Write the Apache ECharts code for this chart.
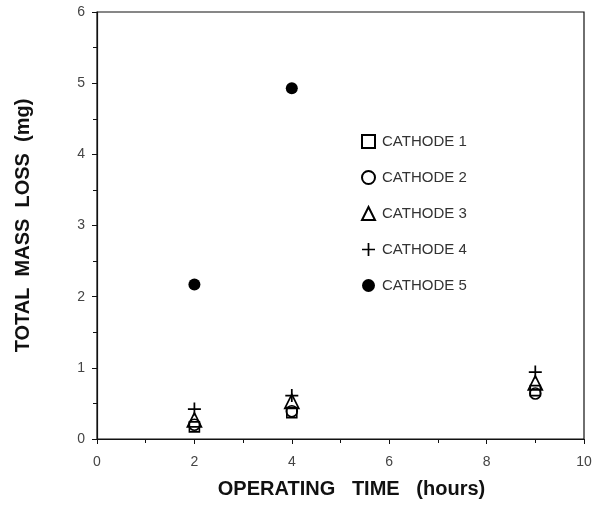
<!DOCTYPE html>
<html>
<head>
<meta charset="utf-8">
<script src="https://cdn.jsdelivr.net/npm/echarts@6/dist/echarts.min.js"></script>
<style>
  html, body { margin: 0; padding: 0; background: #fff; }
  #chart { width: 596px; height: 505px; }
</style>
</head>
<body>
<div id="chart"></div>
<script>
  // operating time (hours) for each measurement
  var hours = [2, 4, 9];
  var cathode1 = [0.17, 0.37, 0.68];
  var cathode2 = [0.20, 0.39, 0.64];
  var cathode3 = [0.27, 0.53, 0.79];
  var cathode4 = [0.42, 0.61, 0.94];
  var cathode5 = [2.17, 4.93];
  var names = ['CATHODE 1', 'CATHODE 2', 'CATHODE 3', 'CATHODE 4', 'CATHODE 5'];

  var plusPath = 'path://M5.2,0L6.8,0L6.8,5.2L12,5.2L12,6.8L6.8,6.8L6.8,12L5.2,12L5.2,6.8L0,6.8L0,5.2L5.2,5.2Z';

  function pairs(vals) {
    var out = [];
    for (var i = 0; i < vals.length; i++) out.push([hours[i], vals[i]]);
    return out;
  }

  var chart = echarts.init(document.getElementById('chart'));
  var font = 'Liberation Sans, Arial, sans-serif';

  var option = {
    animation: false,
    backgroundColor: '#fff',
    grid: {
      left: 97, right: 12, top: 12, bottom: 66,
      show: true, borderColor: '#111', borderWidth: 1.2
    },
    legend: {
      orient: 'vertical',
      left: 356, top: 129,
      itemGap: 21,
      itemWidth: 13, itemHeight: 13,
      textStyle: { fontFamily: font, fontSize: 15, color: '#333', padding: [0, 0, 0, 2] },
      data: names
    },
    xAxis: {
      type: 'value', min: 0, max: 10, interval: 2,
      name: 'OPERATING   TIME   (hours)',
      nameLocation: 'middle', nameGap: 40,
      nameTextStyle: { fontFamily: font, fontSize: 20, fontWeight: 'bold', color: '#111', padding: [0, 0, 0, 22] },
      axisLine: { lineStyle: { color: '#111', width: 1.2 } },
      axisTick: { length: 5, lineStyle: { color: '#111' } },
      minorTick: { show: true, splitNumber: 2, length: 4, lineStyle: { color: '#111' } },
      splitLine: { show: false },
      axisLabel: { fontFamily: font, fontSize: 14, color: '#444', margin: 16 }
    },
    yAxis: {
      type: 'value', min: 0, max: 6, interval: 1,
      name: 'TOTAL  MASS  LOSS  (mg)',
      nameLocation: 'middle', nameGap: 64, nameRotate: 90,
      nameTextStyle: { fontFamily: font, fontSize: 20, fontWeight: 'bold', color: '#111' },
      axisLine: { show: true, lineStyle: { color: '#111', width: 1.2 } },
      axisTick: { show: true, length: 5, lineStyle: { color: '#111' } },
      minorTick: { show: true, splitNumber: 2, length: 4, lineStyle: { color: '#111' } },
      splitLine: { show: false },
      axisLabel: { fontFamily: font, fontSize: 14, color: '#444', margin: 12 }
    },
    series: [
      {
        name: names[0], type: 'scatter', data: pairs(cathode1),
        symbol: 'rect', symbolSize: 10,
        itemStyle: { color: '#fff', borderColor: '#000', borderWidth: 1.6, opacity: 1 }
      },
      {
        name: names[1], type: 'scatter', data: pairs(cathode2),
        symbol: 'circle', symbolSize: 11,
        itemStyle: { color: 'rgba(255,255,255,0)', borderColor: '#000', borderWidth: 1.6, opacity: 1 }
      },
      {
        name: names[2], type: 'scatter', data: pairs(cathode3),
        symbol: 'triangle', symbolSize: 14,
        itemStyle: { color: 'rgba(255,255,255,0)', borderColor: '#000', borderWidth: 1.7, opacity: 1 }
      },
      {
        name: names[3], type: 'scatter', data: pairs(cathode4),
        symbol: plusPath, symbolSize: 13,
        itemStyle: { color: '#000', opacity: 1 }
      },
      {
        name: names[4], type: 'scatter', data: pairs(cathode5),
        symbol: 'circle', symbolSize: 12,
        itemStyle: { color: '#000', opacity: 1 }
      }
    ]
  };

  chart.setOption(option);
</script>
</body>
</html>
